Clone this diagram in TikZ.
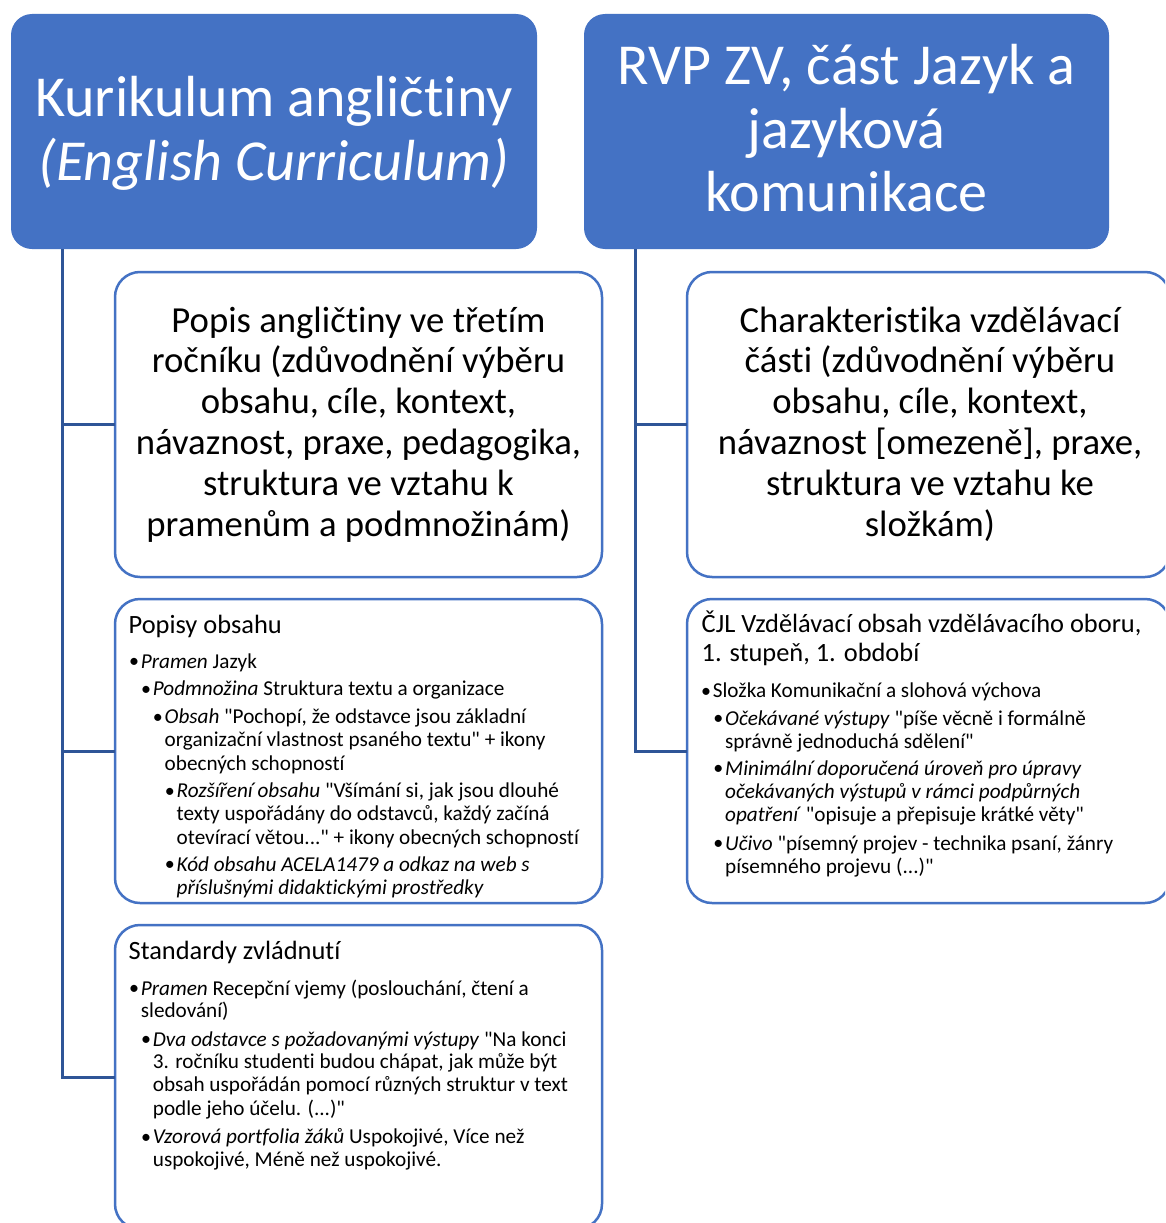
\documentclass[tikz,border=0pt]{standalone}
\usepackage{fontspec}
\setmainfont{Carlito}[Ligatures={TeXOff,CommonOff}]
\definecolor{hb}{HTML}{4472C4}
\definecolor{cb}{HTML}{2F5597}
\newcommand\fontHd{\fontsize{58}{63.5}\selectfont}
\newcommand\fontMd{\fontsize{36.7}{40.8}\selectfont}
\newcommand\fontTt{\fontsize{26.4}{29.4}\selectfont}
\newcommand\fontBl{\fontsize{21.2}{23.4}\selectfont}
\newcommand\bul{\llap{\raisebox{0.3pt}{\fontsize{20}{20}\selectfont •}\hspace{1.8pt}}}
\tikzset{
  headbox/.style={draw=none, fill=hb, rounded corners=21pt, inner sep=0pt, outer sep=0pt},
  subbox/.style={draw=hb, line width=2.5pt, fill=white, rounded corners=25pt, inner sep=0pt, outer sep=0pt},
  conn/.style={draw=cb, line width=3pt},
  hdtxt/.style={inner sep=0pt, anchor=base, text=white, font=\fontHd},
  mdtxt/.style={inner sep=0pt, anchor=base, font=\fontMd},
  tttxt/.style={inner sep=0pt, anchor=base west, font=\fontTt},
  bltxt/.style={inner sep=0pt, anchor=base west, font=\fontBl}
}
\newcommand\TL[5]{\node[#1] (#2) at (#3) {#4#5};}
\begin{document}
\begin{tikzpicture}[x=1pt,y=-1pt]
\fill[white] (0,0) rectangle (1165,1223);
\clip (0,0) rectangle (1165,1223);
% boxes
\node[headbox, minimum width=526pt, minimum height=235pt] (hl) at (274,131.5) {};
\node[headbox, minimum width=525pt, minimum height=235pt] (hr) at (846.5,131.5) {};
\node[subbox, minimum width=487pt, minimum height=305pt] (pa) at (358.5,424.5) {};
\node[subbox, minimum width=487pt, minimum height=304pt] (pb) at (358.5,751) {};
\node[subbox, minimum width=487pt, minimum height=304pt] (pc) at (358.5,1077) {};
\node[subbox, minimum width=483pt, minimum height=305pt] (pd) at (928.5,424.5) {};
\node[subbox, minimum width=483pt, minimum height=304pt] (pe) at (928.5,751) {};
% connectors
\draw[conn] ([xshift=51pt]hl.south west) |- (pa.west);
\draw[conn] ([xshift=51pt]hl.south west) |- (pb.west);
\draw[conn] ([xshift=51pt]hl.south west) |- (pc.west);
\draw[conn] ([xshift=51pt]hr.south west) |- (pd.west);
\draw[conn] ([xshift=51pt]hr.south west) |- (pe.west);
% headings
\TL{hdtxt}{hl1}{274,116.7}{}{Kurikulum angličtiny}
\TL{hdtxt}{hl2}{274,180.2}{}{\textit{(English Curriculum)}}
\TL{hdtxt}{hr1}{846.5,84.8}{}{RVP ZV, část Jazyk a}
\TL{hdtxt}{hr2}{846.5,148.3}{}{jazyková}
\TL{hdtxt}{hr3}{846.5,211.8}{}{komunikace}
% box A
\TL{mdtxt}{a1}{358.5,332}{}{Popis angličtiny ve třetím}
\TL{mdtxt}{a2}{358.5,372.8}{}{ročníku (zdůvodnění výběru}
\TL{mdtxt}{a3}{358.5,413.6}{}{obsahu, cíle, kontext,}
\TL{mdtxt}{a4}{358.5,454.4}{}{návaznost, praxe, pedagogika,}
\TL{mdtxt}{a5}{358.5,495.2}{}{struktura ve vztahu k}
\TL{mdtxt}{a6}{358.5,536}{}{pramenům a podmnožinám)}
% box D
\TL{mdtxt}{d1}{930,332}{}{Charakteristika vzdělávací}
\TL{mdtxt}{d2}{930,372.8}{}{části (zdůvodnění výběru}
\TL{mdtxt}{d3}{930,413.6}{}{obsahu, cíle, kontext,}
\TL{mdtxt}{d4}{930,454.4}{}{návaznost [omezeně], praxe,}
\TL{mdtxt}{d5}{930,495.2}{}{struktura ve vztahu ke}
\TL{mdtxt}{d6}{930,536}{}{složkám)}
% box B
\TL{tttxt}{bt}{128.5,633.3}{}{Popisy obsahu}
\TL{bltxt}{b1}{140.7,668}{\bul}{\textit{Pramen} Jazyk}
\TL{bltxt}{b2}{152.7,695.7}{\bul}{\textit{Podmnožina} Struktura textu a organizace}
\TL{bltxt}{b3}{164.5,723.3}{\bul}{\textit{Obsah} "Pochopí, že odstavce jsou základní}
\TL{bltxt}{b4}{164.5,746.7}{}{organizační vlastnost psaného textu" + ikony}
\TL{bltxt}{b5}{164.5,770}{}{obecných schopností}
\TL{bltxt}{b6}{176.5,797.3}{\bul}{\textit{Rozšíření obsahu} "Všímání si, jak jsou dlouhé}
\TL{bltxt}{b7}{176.5,820.7}{}{texty uspořádány do odstavců, každý začíná}
\TL{bltxt}{b8}{176.5,844}{}{otevírací větou..." + ikony obecných schopností}
\TL{bltxt}{b9}{176.5,871}{\bul}{\textit{Kód obsahu ACELA1479 a odkaz na web s}}
\TL{bltxt}{b10}{176.5,894.4}{}{\textit{příslušnými didaktickými prostředky}}
% box C
\TL{tttxt}{ct}{128.5,959.3}{}{Standardy zvládnutí}
\TL{bltxt}{c1}{140.7,995}{\bul}{\textit{Pramen} Recepční vjemy (poslouchání, čtení a}
\TL{bltxt}{c2}{140.7,1017.7}{}{sledování)}
\TL{bltxt}{c3}{152.7,1046}{\bul}{\textit{Dva odstavce s požadovanými výstupy} "Na konci}
\TL{bltxt}{c4}{152.7,1068.3}{}{3. ročníku studenti budou chápat, jak může být}
\TL{bltxt}{c5}{152.7,1091.7}{}{obsah uspořádán pomocí různých struktur v text}
\TL{bltxt}{c6}{152.7,1115}{}{podle jeho účelu. (...)"}
\TL{bltxt}{c7}{152.7,1143.3}{\bul}{\textit{Vzorová portfolia žáků} Uspokojivé, Více než}
\TL{bltxt}{c8}{152.7,1166}{}{uspokojivé, Méně než uspokojivé.}
% box E
\TL{tttxt}{et1}{701.5,632.3}{}{ČJL Vzdělávací obsah vzdělávacího oboru,}
\TL{tttxt}{et2}{701.5,661.7}{}{1. stupeň, 1. období}
\TL{bltxt}{e1}{712.7,697.7}{\bul}{Složka Komunikační a slohová výchova}
\TL{bltxt}{e2}{725,725}{\bul}{\textit{Očekávané výstupy} "píše věcně i formálně}
\TL{bltxt}{e3}{725,748.3}{}{správně jednoduchá sdělení"}
\TL{bltxt}{e4}{725,775}{\bul}{\textit{Minimální doporučená úroveň pro úpravy}}
\TL{bltxt}{e5}{725,798.3}{}{\textit{očekávaných výstupů v rámci podpůrných}}
\TL{bltxt}{e6}{725,821.7}{}{\textit{opatření} "opisuje a přepisuje krátké věty"}
\TL{bltxt}{e7}{725,850}{\bul}{\textit{Učivo} "písemný projev - technika psaní, žánry}
\TL{bltxt}{e8}{725,873.3}{}{písemného projevu (...)"}
\end{tikzpicture}
\end{document}
